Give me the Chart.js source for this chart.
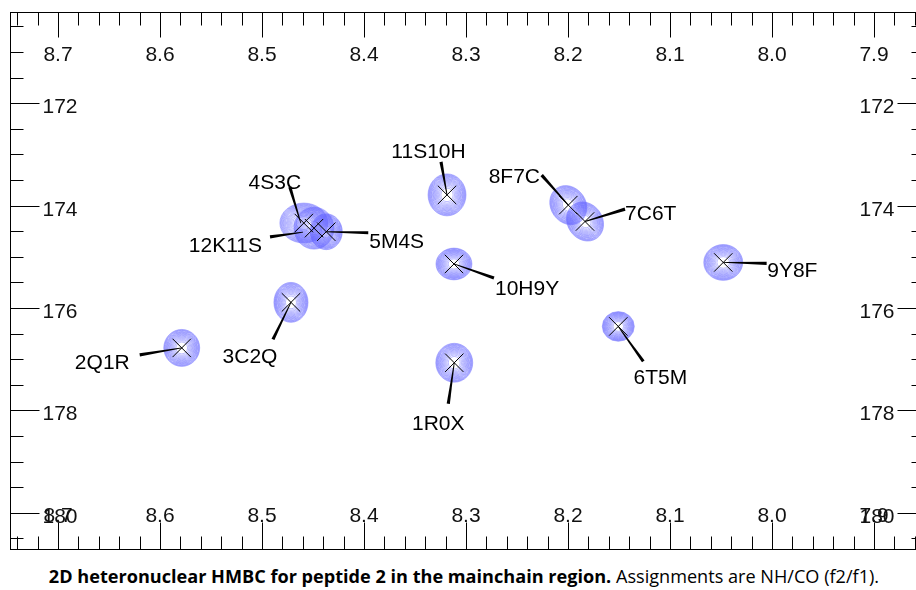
<!DOCTYPE html>
<html><head><meta charset="utf-8">
<script src="https://cdn.jsdelivr.net/npm/chart.js@4.4.1/dist/chart.umd.min.js"></script>
<style>
html,body{margin:0;padding:0;background:#fff;overflow:hidden;width:916px;height:590px;position:relative;}
#wrap{position:absolute;left:0;top:0;width:935px;height:556px;}
#caption{position:absolute;left:0;top:566px;width:928px;text-align:center;font-family:"Open Sans","Noto Sans",sans-serif;font-size:15px;line-height:20px;color:#000;white-space:nowrap;}
#caption span{display:inline-block;}
</style></head><body>
<div id="wrap"><canvas id="c" width="935" height="556"></canvas></div>
<div id="caption"><span id="capt"><b>2D heteronuclear HMBC for peptide 2 in the mainchain region.</b> Assignments are NH/CO (f2/f1).</span></div>
<script>
// ---- data ----
const peakLabels = ['1R0X','2Q1R','3C2Q','4S3C','5M4S','6T5M','7C6T','8F7C','9Y8F','10H9Y','11S10H','12K11S'];
const shiftH = [8.3115, 8.5787, 8.4716, 8.459, 8.437, 8.1507, 8.1833, 8.1997, 8.0478, 8.3118, 8.3186, 8.449];   // f2 (1H) ppm
const shiftC = [177.07, 176.78, 175.89, 174.34, 174.51, 176.36, 174.31, 173.99, 175.11, 175.14, 173.79, 174.44]; // f1 (13C) ppm
const halfWidthH = [0.0181, 0.0176, 0.0167, 0.0235, 0.0157, 0.0157, 0.0172, 0.0172, 0.0191, 0.0176, 0.0186, 0.0196];
const halfWidthC = [0.38, 0.361, 0.39, 0.39, 0.35, 0.29, 0.40, 0.40, 0.35, 0.31, 0.41, 0.41];
const xTickValues = [8.7, 8.6, 8.5, 8.4, 8.3, 8.2, 8.1, 8.0, 7.9];
const xTickLabels = ['8.7','8.6','8.5','8.4','8.3','8.2','8.1','8.0','7.9'];
const yTickValues = [172, 174, 176, 178, 180];
const yTickLabels = ['172','174','176','178','180'];

// ---- layout / style ----
const X_MIN = 7.85, X_MAX = 8.74706, Y_MIN = 170.217, Y_MAX = 180.728;
const FONT = '21px "Liberation Sans", Arial, Helvetica, sans-serif';
const CONTOUR_COLOR = 'rgba(95,95,255,0.72)';
const LEVELS = 18;
const contourTilt = {'7C6T': -35, '8F7C': -35};
// label placement: pixel offsets from the peak: [tipDx,tipDy,endDx,endDy,textDx,textDy,align]
const labelLayout = {
  '1R0X':  [0,0,  -6, 41,   -16, 67,   'center'],
  '2Q1R':  [0,0, -42,  7,   -52, 21.5, 'right'],
  '3C2Q':  [0,0, -18, 37,   -41, 60.5, 'center'],
  '4S3C':  [-3,0, -14,-36,  -29,-34,   'center'],
  '5M4S':  [0,0,  42,  1,    43, 16,   'left'],
  '6T5M':  [0,0,  25, 35,    42, 58,   'center'],
  '7C6T':  [0,0,  40,-12.4,  40, -1.7, 'left'],
  '8F7C':  [0,0, -26.6,-30, -28.3,-22.5,'right'],
  '9Y8F':  [0,0,  43.4, 1,   44, 14.7, 'left'],
  '10H9Y': [0,0,  40, 14,    41, 31.5, 'left'],
  '11S10H':[0,0,  -6,-33,  -18.5,-36.5,'center'],
  '12K11S':[-11,4, -44, 8.7, -52, 23.5, 'right']
};

const spectrumPlugin = {
  id: 'spectrum',
  beforeDatasetsDraw(chart) {
    const {ctx, chartArea: a, scales: {x, y}} = chart;
    ctx.save();
    ctx.beginPath(); ctx.rect(a.left, a.top, a.right - a.left, a.bottom - a.top); ctx.clip();
    ctx.strokeStyle = CONTOUR_COLOR; ctx.lineWidth = 0.6;
    for (let i = 0; i < peakLabels.length; i++) {
      const cx = x.getPixelForValue(shiftH[i]), cy = y.getPixelForValue(shiftC[i]);
      const rx = Math.abs(x.getPixelForValue(shiftH[i] + halfWidthH[i]) - cx);
      const ry = Math.abs(y.getPixelForValue(shiftC[i] + halfWidthC[i]) - cy);
      const rot = (contourTilt[peakLabels[i]] || 0) * Math.PI / 180;
      for (let k = 0; k < LEVELS; k++) {
        const s = Math.sqrt(1 - k / (LEVELS + 1));
        ctx.beginPath(); ctx.ellipse(cx, cy, rx * s, ry * s, rot, 0, 2 * Math.PI); ctx.stroke();
      }
    }
    ctx.restore();
  },
  afterDatasetsDraw(chart) {
    const {ctx, chartArea: a, scales: {x, y}} = chart;
    ctx.save();
    // leaders + labels
    ctx.fillStyle = '#000';
    ctx.font = FONT;
    ctx.textBaseline = 'alphabetic';
    for (let i = 0; i < peakLabels.length; i++) {
      const L = labelLayout[peakLabels[i]];
      const cx = x.getPixelForValue(shiftH[i]), cy = y.getPixelForValue(shiftC[i]);
      const tx = cx + L[0], ty = cy + L[1], ex = cx + L[2], ey = cy + L[3];
      const dx = ex - tx, dy = ey - ty, len = Math.hypot(dx, dy);
      const nx = -dy / len, ny = dx / len;
      const w0 = 0.4, w1 = 1.6;
      ctx.beginPath();
      ctx.moveTo(tx + nx * w0, ty + ny * w0);
      ctx.lineTo(ex + nx * w1, ey + ny * w1);
      ctx.lineTo(ex - nx * w1, ey - ny * w1);
      ctx.lineTo(tx - nx * w0, ty - ny * w0);
      ctx.closePath(); ctx.fill();
      ctx.textAlign = L[6];
      ctx.fillText(peakLabels[i], cx + L[4], cy + L[5]);
    }
    // frame
    ctx.strokeStyle = '#000'; ctx.lineWidth = 1;
    const L0 = Math.round(a.left) + 0.5, R0 = Math.round(a.right) - 0.5;
    const T0 = Math.round(a.top) + 0.5, B0 = Math.round(a.bottom) - 0.5;
    ctx.strokeRect(L0, T0, R0 - L0, B0 - T0);
    // x ticks (top & bottom)
    ctx.beginPath();
    for (let i = 0; ; i++) {
      const v = +(8.74 - 0.02 * i).toFixed(2);
      if (v < X_MIN) break;
      const major = Math.abs(v * 10 - Math.round(v * 10)) < 1e-6;
      const px = Math.round(x.getPixelForValue(v)) + 0.5;
      const len = major ? 25 : 13;
      ctx.moveTo(px, T0); ctx.lineTo(px, T0 + len);
      ctx.moveTo(px, B0); ctx.lineTo(px, B0 - (major ? 27 : 13));
    }
    // y ticks (left & right)
    for (let i = 0; ; i++) {
      const v = 170.5 + 0.5 * i;
      if (v > Y_MAX) break;
      const major = v % 2 === 0;
      const py = Math.round(y.getPixelForValue(v)) + 0.5;
      const len = major ? 29 : 13;
      ctx.moveTo(L0, py); ctx.lineTo(L0 + len, py);
      ctx.moveTo(R0, py); ctx.lineTo(R0 - (major ? 27 : 13), py);
    }
    ctx.stroke();
    // tick labels
    ctx.fillStyle = '#111';
    ctx.textAlign = 'center';
    xTickValues.forEach((v, i) => {
      const px = x.getPixelForValue(v);
      ctx.fillText(xTickLabels[i], px, T0 + 48);
      ctx.fillText(xTickLabels[i], px, B0 - 28);
    });
    yTickValues.forEach((v, i) => {
      const py = y.getPixelForValue(v);
      ctx.textAlign = 'left';
      ctx.fillText(yTickLabels[i], L0 + 32, py + 10);
      ctx.textAlign = 'right';
      ctx.fillText(yTickLabels[i], R0 - 30, py + 10);
    });
    ctx.restore();
  }
};

new Chart(document.getElementById('c'), {
  type: 'scatter',
  data: {
    datasets: [{
      label: 'peaks',
      data: peakLabels.map((n, i) => ({x: shiftH[i], y: shiftC[i]})),
      pointStyle: 'crossRot',
      pointRadius: 13,
      pointBorderWidth: 1,
      borderColor: '#000',
      backgroundColor: '#000',
      clip: false
    }]
  },
  options: {
    responsive: false,
    animation: false,
    events: [],
    devicePixelRatio: 1,
    layout: {autoPadding: false, padding: {left: 10, top: 12, right: 10, bottom: 6}},
    plugins: {legend: {display: false}, tooltip: {enabled: false}},
    scales: {
      x: {type: 'linear', display: false, reverse: true, min: X_MIN, max: X_MAX},
      y: {type: 'linear', display: false, reverse: true, min: Y_MIN, max: Y_MAX}
    }
  },
  plugins: [spectrumPlugin]
});

// fit caption to the reference width
const capt = document.getElementById('capt');
const w = capt.getBoundingClientRect().width;
document.getElementById('caption').style.fontSize = (15 * 831 / w).toFixed(2) + 'px';
</script>
</body></html>
